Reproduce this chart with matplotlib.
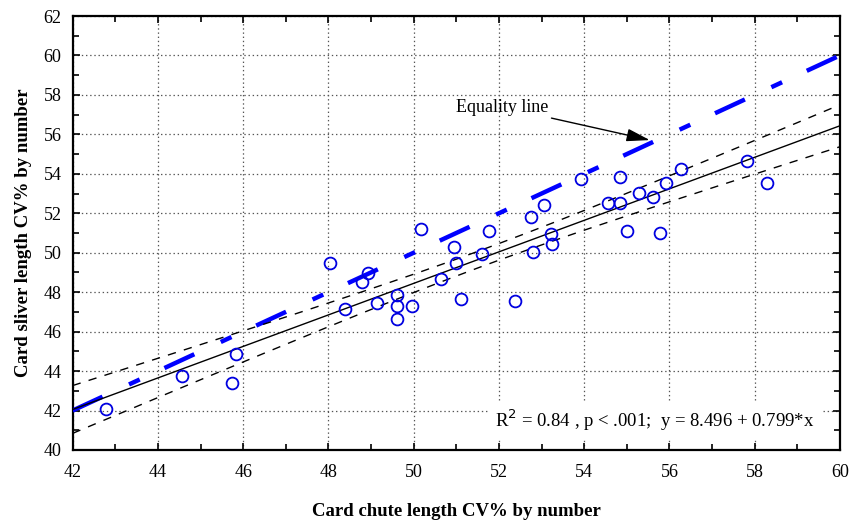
import numpy as np
import matplotlib
matplotlib.use("Agg")
import matplotlib.pyplot as plt
from matplotlib.ticker import MultipleLocator

# chute CV% (x) vs sliver CV% (y)
chute_cv = [42.79, 44.57, 45.74, 45.84, 48.03, 48.38, 48.78, 48.92, 49.13, 49.60,
            49.60, 49.60, 49.95, 50.16, 50.63, 50.95, 51.00, 51.10, 51.61, 51.77,
            52.37, 52.75, 52.79, 53.06, 53.21, 53.25, 53.92, 54.57, 54.84, 54.85,
            55.00, 55.29, 55.61, 55.79, 55.91, 56.28, 57.82, 58.30]
sliver_cv = [42.06, 43.75, 43.38, 44.87, 49.46, 47.13, 48.53, 48.95, 47.43, 47.86,
             47.30, 46.62, 47.30, 51.18, 48.65, 50.28, 49.46, 47.64, 49.95, 51.10,
             47.55, 51.80, 50.06, 52.42, 50.95, 50.44, 53.72, 52.54, 52.54, 53.85,
             51.10, 53.04, 52.81, 50.98, 53.55, 54.23, 54.66, 53.55]

intercept = 8.496
slope = 0.799
x_range = [42, 60]
y_range = [40, 62]
fit_text = "R$^2$ = 0.84 , p < .001;  y = 8.496 + 0.799*x"

SERIF = "Liberation Serif"
plt.rcParams["font.family"] = SERIF
plt.rcParams["lines.scale_dashes"] = False

x = np.array(chute_cv)
y = np.array(sliver_cv)

# regression line and 95% confidence band from the data
xs = np.linspace(x_range[0], x_range[1], 200)
ys = intercept + slope * xs
n = len(x)
resid = y - (intercept + slope * x)
s = np.sqrt(np.sum(resid ** 2) / (n - 2))
sxx = np.sum((x - x.mean()) ** 2)
t_crit = 2.028
half = t_crit * s * np.sqrt(1.0 / n + (xs - x.mean()) ** 2 / sxx)

fig = plt.figure(figsize=(8.51, 5.22), dpi=100)
ax = fig.add_axes([0.0854, 0.138, 0.9016, 0.8313])

ax.plot(x_range, x_range, color="#0000ff", lw=3.2,
        dashes=(23.7, 21.0, 8.5, 19.6), solid_capstyle="butt",
        dash_capstyle="butt", zorder=3)

ax.plot(xs, ys, color="black", lw=1.0, zorder=4)
ax.plot(xs, ys + half, color="black", lw=1.0, dashes=(6, 6), zorder=4)
ax.plot(xs, ys - half, color="black", lw=1.0, dashes=(6, 6), zorder=4)

ax.plot(x, y, linestyle="none", marker="o", markersize=8.5,
        markerfacecolor="none", markeredgecolor="#0000e0",
        markeredgewidth=1.3, zorder=5)

ax.set_xlim(x_range)
ax.set_ylim(y_range)
ax.xaxis.set_major_locator(MultipleLocator(2))
ax.yaxis.set_major_locator(MultipleLocator(2))
ax.xaxis.set_minor_locator(MultipleLocator(1))
ax.yaxis.set_minor_locator(MultipleLocator(1))
ax.tick_params(which="both", direction="in", top=True, right=True,
               labelsize=13, width=1.2)
ax.tick_params(which="major", length=5, pad=10)
ax.tick_params(axis="y", which="major", pad=8)
ax.tick_params(which="minor", length=4)
ax.grid(True, which="major", linestyle=(0, (1, 2)), color="#555555", lw=0.9)
for sp in ax.spines.values():
    sp.set_linewidth(1.6)

ax.set_xlabel("Card chute length CV% by number", fontsize=13.5,
              fontweight="bold", labelpad=16)
ax.set_ylabel("Card sliver length CV% by number", fontsize=13.5,
              fontweight="bold", labelpad=8)

ax.annotate("Equality line", xy=(55.54, 55.71), xytext=(51.0, 57.38),
            fontsize=13, va="center", ha="left",
            arrowprops=dict(arrowstyle="-|>,head_length=1.1,head_width=0.3",
                            color="black", lw=1.0,
                            shrinkA=0, shrinkB=0),
            zorder=6)

ax.text(59.4, 41.5, fit_text, fontsize=13.5, ha="right", va="center",
        bbox=dict(facecolor="white", edgecolor="none", pad=5), zorder=6)

fig.savefig("out.png", dpi=100)
